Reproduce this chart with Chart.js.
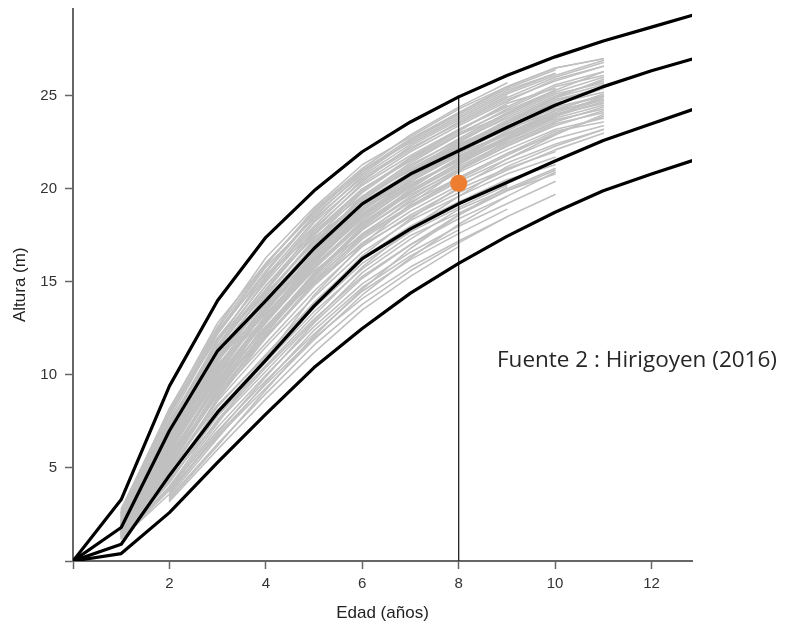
<!DOCTYPE html>
<html>
<head>
<meta charset="utf-8">
<script src="https://cdn.jsdelivr.net/npm/chart.js@4.4.0/dist/chart.umd.min.js"></script>
<style>
  body { margin: 0; background: #fff; }
</style>
</head>
<body>
<canvas id="c" width="789" height="625"></canvas>
<script>
// edades de las curvas de referencia
const ages = [0, 1, 2, 3, 4, 5, 6, 7, 8, 9, 10, 11, 12, 13];
const curveA = [0, 3.3, 9.4, 14.0, 17.4, 19.9, 22.0, 23.6, 24.95, 26.1, 27.1, 27.95, 28.7, 29.45];
const curveB = [0, 1.8, 7.0, 11.3, 14.0, 16.8, 19.2, 20.8, 22.05, 23.3, 24.5, 25.5, 26.35, 27.1];
const curveC = [0, 0.9, 4.6, 8.0, 10.8, 13.7, 16.25, 17.85, 19.2, 20.35, 21.5, 22.6, 23.5, 24.4];
const curveD = [0, 0.4, 2.6, 5.3, 7.9, 10.4, 12.5, 14.4, 16.0, 17.45, 18.75, 19.9, 20.8, 21.65];

const xTicks = [0, 2, 4, 6, 8, 10, 12];
const yTicks = [0, 5, 10, 15, 20, 25];

const markAge = 8;
const markHeight = 20.3;
const markLineTop = 25;

// alturas de cada árbol, índice 0 = edad 1
const treeHeights = [
  [2.7, 8.2, 12.6, 16.3, 19.0, 21.3, 22.8, 24.3, 25.5, 26.5, 27.0],
  [2.5, 7.6, 12.2, 15.6, 18.6, 20.8, 22.6, 24.0, 25.3, 26.2],
  [2.6, 8.0, 12.0, 15.2, 18.0, 20.5, 22.1, 23.6, 24.9, 26.0, 26.8],
  [2.4, 7.2, 11.8, 15.0, 17.9, 20.2, 21.8, 23.2, 24.4, 25.6, 26.3],
  [2.5, 7.5, 11.5, 14.6, 17.5, 19.9, 21.7, 23.1, 24.6, 25.4],
  [2.2, 6.9, 11.2, 14.5, 17.6, 20.0, 21.5, 22.9, 24.0, 25.2, 26.0],
  [2.1, 6.5, 10.9, 14.2, 17.2, 19.5, 21.3, 22.6, 23.8, 25.0, 25.8],
  [2.3, 7.1, 11.0, 14.0, 16.9, 19.6, 21.0, 22.4, 23.5, 24.6],
  [2.0, 6.3, 10.5, 13.8, 16.7, 19.2, 20.9, 22.2, 23.6, 24.8, 25.4],
  [2.2, 6.8, 10.8, 13.6, 16.3, 18.8, 20.6, 22.0, 23.2, 24.2, 25.1],
  [1.9, 6.0, 10.2, 13.4, 16.4, 18.9, 20.4, 21.8, 22.9, 24.0],
  [2.1, 6.6, 10.4, 13.3, 16.0, 18.5, 20.3, 21.5, 22.8, 23.9, 24.7],
  [1.8, 5.8, 9.9, 13.1, 16.1, 18.4, 20.1, 21.6, 23.0, 24.1, 24.9],
  [2.0, 6.2, 10.0, 12.8, 15.7, 18.1, 19.8, 21.2, 22.5, 23.6],
  [1.7, 5.5, 9.6, 12.9, 15.8, 18.2, 19.7, 21.0, 22.3, 23.4, 24.2],
  [1.9, 5.9, 9.8, 12.5, 15.3, 17.8, 19.5, 20.9, 22.1, 23.2, 23.8],
  [1.6, 5.2, 9.3, 12.4, 15.2, 17.6, 19.3, 20.6, 21.9, 22.9],
  [1.8, 5.6, 9.4, 12.1, 14.9, 17.3, 19.0, 20.4, 21.6, 22.7, 23.4],
  [1.5, 5.0, 9.0, 12.0, 14.8, 17.1, 18.8, 20.2, 21.4, 22.4, 23.2],
  [1.7, 5.3, 8.9, 11.7, 14.5, 16.9, 18.6, 20.0, 21.1, 22.0],
  [1.5, 4.8, 8.6, 11.5, 14.2, 16.6, 18.3, 19.6, 20.8, 21.7],
  [1.4, 4.5, 8.3, 11.1, 13.9, 16.3, 18.0, 19.3, 20.5, 21.3],
  [1.6, 4.9, 8.4, 11.0, 13.6, 16.0, 17.7, 19.0, 20.2],
  [1.3, 4.2, 7.9, 10.7, 13.4, 15.7, 17.5, 18.7, 19.9, 20.8],
  [1.3, 4.0, 7.6, 10.4, 13.0, 15.3, 17.0, 18.4, 19.6],
  [null, 3.8, 7.2, 10.0, 12.6, 14.9, 16.6, 18.0, 19.2, 20.4],
  [null, 3.9, 7.0, 9.7, 12.2, 14.5, 16.2, 17.6, 18.9],
  [1.2, 3.6, 6.8, 9.5, 12.0, 14.1, 15.8, 17.2, 18.5, 19.7],
  [1.4, 4.4, 7.5, 10.2, 12.9, 15.5, 17.3, 18.9, 20.0, 21.1],
  [null, 3.5, 6.6, 9.6, 12.4, 14.7, 16.4, 17.8],
  [2.5, 7.8, 12.3, 15.8, 18.4, 20.6, 22.2, 23.5, 24.8, 25.8, 26.6],
  [2.2, 7.0, 11.6, 14.8, 17.7, 20.0, 21.6, 23.0, 24.2, 25.3],
  [1.9, 6.4, 10.8, 14.1, 16.9, 19.3, 20.9, 22.4, 23.6, 24.6, 25.2],
  [1.6, 5.8, 10.1, 13.5, 16.2, 18.5, 20.2, 21.6, 22.8, 23.9],
  [2.0, 6.1, 9.9, 13.0, 15.9, 18.2, 19.9, 21.4, 22.6, 23.7, 24.3],
  [2.6, 7.8, 12.4, 15.4, 17.6, 19.6, 21.0, 22.3, 23.4, 24.3, 25.0],
  [1.6, 5.0, 9.2, 12.8, 16.0, 18.8, 20.9, 22.6, 24.0, 25.3, 26.3],
  [2.0, 6.4, 10.6, 13.0, 15.6, 17.5, 19.1, 20.5, 21.8, 23.0, 23.9],
  [1.5, 4.6, 8.8, 12.2, 15.4, 18.0, 20.0, 21.7, 23.1, 24.4],
  [1.8, 5.7, 9.5, 12.6, 15.0, 17.0, 18.5, 19.8, 21.0, 22.1, 23.0],
  [1.3, 3.9, 7.4, 10.9, 14.3, 17.0, 19.2, 21.0, 22.6, 23.9, 25.0],
  [2.2, 6.9, 11.4, 14.8, 17.4, 19.3, 20.7, 21.9, 23.0, 24.0, 24.6],
  [2.8, 8.1, 12.8, 16.0, 18.7, 21.0, 22.5, 23.9, 25.2, 26.2],
  [1.4, 4.3, 7.8, 10.5, 13.2, 15.8, 17.9, 19.6, 21.2, 22.3, 23.2],
  [null, 3.7, 6.9, 9.9, 12.8, 15.2, 17.0, 18.6, 19.9, 21.0],
  [2.0, 6.1, 10.1, 13.6, 16.6, 19.0, 20.7, 22.1, 23.4, 24.5, 25.4],
  [1.7, 5.4, 9.7, 13.2, 16.2, 18.7, 20.4, 22.0, 23.3],
  [2.4, 7.3, 11.6, 15.1, 18.2, 20.4, 22.3, 23.7, 25.0],
  [2.6, 7.9, 12.3, 15.9, 18.9, 21.1, 22.9, 24.4, 25.7],
  [1.5, 4.7, 8.1, 10.9, 13.8, 16.4, 18.4, 20.1, 21.6, 22.9, 24.0],
  [null, 3.4, 6.3, 9.0, 11.6, 13.8, 15.6, 17.1, 18.5],
  [null, 3.2, 6.0, 8.7, 11.2, 13.5, 15.3, 16.9],
  [1.2, 3.8, 6.7, 9.3, 11.9, 14.3, 16.3, 18.1, 19.6, 20.9],
  [null, 3.3, 6.2, 9.2, 12.1, 14.6, 16.8, 18.6, 20.1],
  [2.3, 7.4, 11.9, 15.3, 18.3, 20.7, 22.4, 23.8, 25.1, 26.1, 26.9],
  [2.1, 6.7, 11.1, 14.6, 17.8, 20.3, 22.0, 23.4, 24.7, 25.9, 26.6],
  [1.9, 6.5, 10.7, 14.0, 17.0, 19.6, 21.4, 22.9, 24.3, 25.5, 26.1],
  [1.8, 6.2, 10.3, 13.7, 16.8, 19.4, 21.1, 22.5, 23.9, 25.1, 25.7],
  [2.4, 7.2, 11.3, 14.4, 17.1, 19.4, 21.2, 22.7, 24.1, 25.3],
  [1.7, 5.9, 10.0, 13.5, 16.5, 18.9, 20.7, 22.3, 23.7, 24.9, 25.6],
  [1.5, 5.4, 9.5, 13.0, 16.0, 18.6, 20.5, 22.1, 23.3, 24.4, 25.0],
  [2.0, 6.6, 10.9, 14.3, 17.3, 19.8, 21.6, 23.2, 24.5],
  [1.6, 5.6, 9.7, 12.9, 15.8, 18.3, 20.1, 21.7, 23.0, 24.2, 24.8],
  [1.4, 5.1, 9.1, 12.5, 15.5, 17.9, 19.8, 21.3, 22.7, 23.8, 24.5],
  [1.8, 6.0, 9.9, 13.2, 16.2, 18.6, 20.2, 21.5, 22.7, 23.8],
  [1.3, 4.9, 8.7, 12.0, 15.0, 17.5, 19.4, 21.0, 22.3, 23.5, 24.1],
  [2.6, 8.0, 12.5, 16.0, 18.8, 21.0, 22.7, 24.1, 25.4, 26.4],
  [2.2, 7.3, 11.8, 15.5, 18.5, 20.9, 22.6, 24.1, 25.5, 26.5, 27.0],
  [1.7, 5.7, 9.4, 12.6, 15.4, 17.8, 19.6, 21.1, 22.4, 23.6, 24.4],
  [1.5, 5.3, 9.2, 12.3, 15.1, 17.4, 19.1, 20.6, 21.9, 23.1, 23.6],
  [1.9, 6.3, 10.4, 13.9, 16.9, 19.1, 20.8, 22.2, 23.5, 24.7, 25.5],
  [2.1, 6.9, 11.0, 14.1, 16.7, 19.0, 20.8, 22.3, 23.6, 24.9, 25.9],
  [1.6, 5.5, 9.0, 12.2, 15.3, 17.9, 19.9, 21.4, 22.8, 24.0, 24.8],
  [2.0, 6.4, 10.4, 13.5, 16.2, 18.6, 20.4, 21.9, 23.3, 24.4]
];

const toPoints = (xs, ys) => ys.map((y, i) => ({x: xs[i], y})).filter(p => p.y !== null);

const treeSets = treeHeights.map(h => ({
  data: h.map((y, i) => ({x: i + 1, y})).filter(p => p.y !== null),
  borderColor: '#c0c0c0', borderWidth: 1.6, pointRadius: 0, order: 4
}));

const curveSets = [curveA, curveB, curveC, curveD].map(c => ({
  data: toPoints(ages, c),
  borderColor: '#000', borderWidth: 3.2, pointRadius: 0, order: 2
}));

const noteText = {
  id: 'noteText',
  afterDraw(chart) {
    const ctx = chart.ctx;
    ctx.save();
    ctx.font = '22.5px "Open Sans"';
    ctx.fillStyle = '#262626';
    ctx.textBaseline = 'alphabetic';
    ctx.fillText('Fuente 2 : Hirigoyen (2016)', 497, 367);
    ctx.restore();
  }
};

const axisFont = {family: '"Liberation Sans", Arial, sans-serif', size: 15};
const titleFont = {family: '"Liberation Sans", Arial, sans-serif', size: 17};

const noPad = s => { s.paddingTop = 0; s.paddingBottom = 0; s.paddingLeft = 0; s.paddingRight = 0; };

new Chart(document.getElementById('c'), {
  type: 'line',
  data: {
    datasets: [
      {data: [{x: markAge, y: markHeight}], showLine: false, pointRadius: 8.5,
       pointBackgroundColor: '#ED7D31', pointBorderWidth: 0, order: 0},
      {data: [{x: markAge, y: 0}, {x: markAge, y: markLineTop}], borderColor: '#222',
       borderWidth: 1.3, pointRadius: 0, order: 3},
      ...curveSets,
      ...treeSets
    ]
  },
  options: {
    responsive: false,
    animation: false,
    events: [],
    layout: {padding: {top: 7, right: 97, left: 0, bottom: 0}},
    plugins: {legend: {display: false}, tooltip: {enabled: false}},
    elements: {line: {tension: 0, borderCapStyle: 'round', borderJoinStyle: 'round'}},
    scales: {
      x: {
        type: 'linear', min: 0, max: 12.84,
        afterBuildTicks: s => { s.ticks = xTicks.map(v => ({value: v})); },
        afterFit: s => { s.height = 64; noPad(s); },
        grid: {drawOnChartArea: false, drawTicks: true, tickLength: 8, tickWidth: 1.5, tickColor: '#666'},
        border: {display: true, color: '#666', width: 2},
        ticks: {font: axisFont, color: '#333', padding: 6, maxRotation: 0, autoSkip: false,
                callback: v => v === 0 ? '' : v},
        title: {display: true, text: 'Edad (años)', font: titleFont, color: '#222',
                padding: {top: 0, bottom: 1}}
      },
      y: {
        type: 'linear', min: 0, max: 29.7,
        afterBuildTicks: s => { s.ticks = yTicks.map(v => ({value: v})); },
        afterFit: s => { s.width = 73; noPad(s); },
        grid: {drawOnChartArea: false, drawTicks: true, tickLength: 8, tickWidth: 1.5, tickColor: '#666'},
        border: {display: true, color: '#666', width: 2},
        ticks: {font: axisFont, color: '#333', padding: 8, autoSkip: false,
                callback: v => v === 0 ? '' : v},
        title: {display: true, text: 'Altura (m)', font: titleFont, color: '#222',
                padding: {top: 10, bottom: 0}}
      }
    }
  },
  plugins: [noteText]
});
</script>
</body>
</html>
